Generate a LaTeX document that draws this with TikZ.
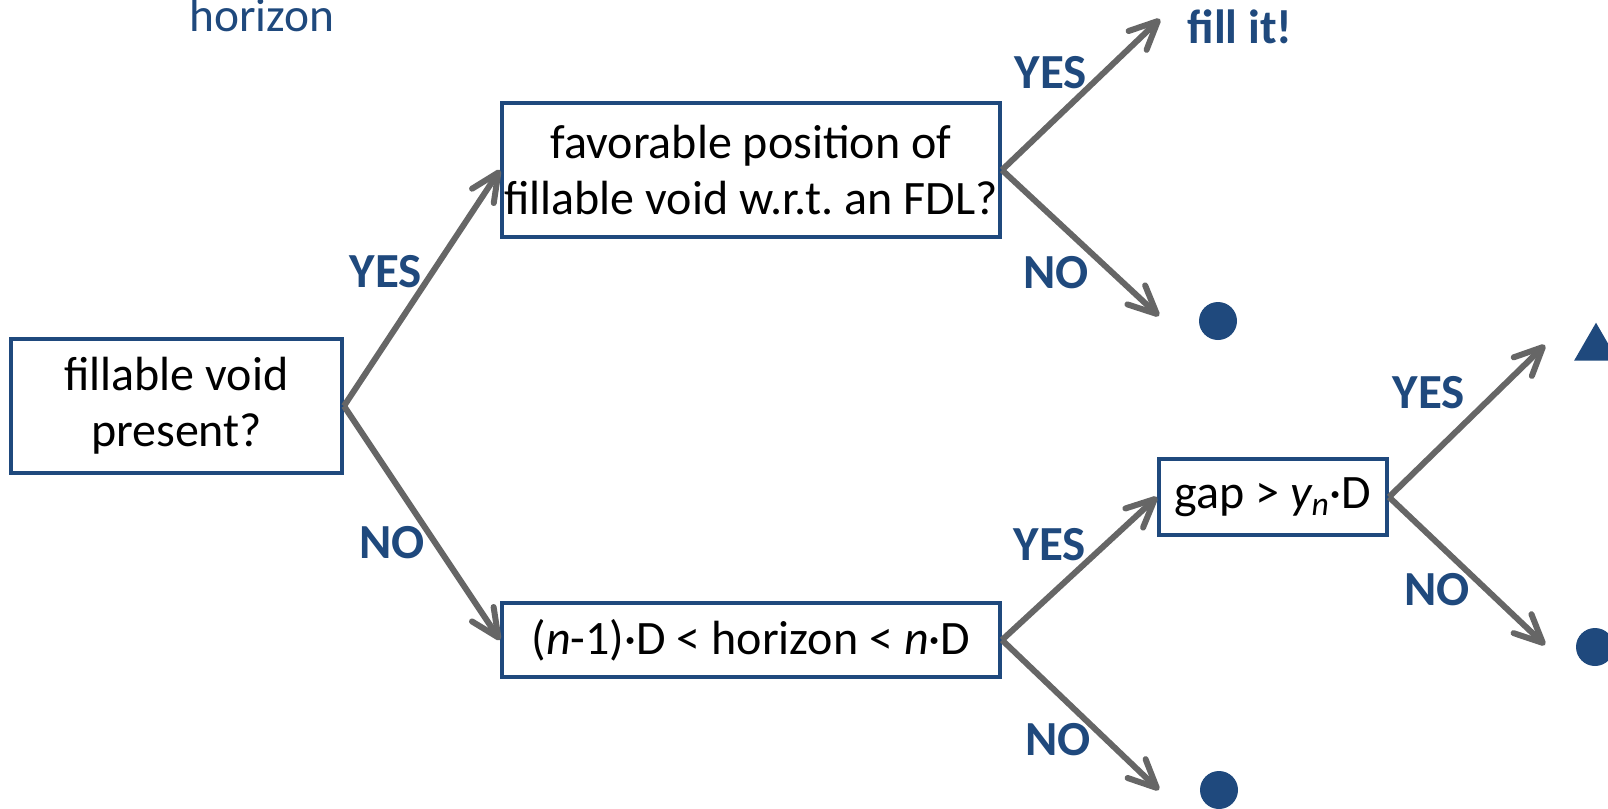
\documentclass[tikz,border=0pt]{standalone}
\usepackage{fontspec}
\setmainfont{Carlito}
\usetikzlibrary{arrows.meta,shapes.geometric}
\definecolor{darkblue}{HTML}{1F497D}
\definecolor{arrowgray}{HTML}{666666}

\begin{document}
\begin{tikzpicture}[x=0.5pt,y=-0.5pt,
    box/.style={draw=darkblue, line width=2pt, inner sep=0pt, align=center, font=\fontsize{24}{28}\selectfont},
    arr/.style={draw=arrowgray, line width=3pt, -{Straight Barb[length=14pt,width=13pt,round]}},
    answer/.style={text=darkblue, inner sep=0pt, font=\fontsize{24.5}{28}\selectfont\bfseries},
    dot/.style={circle, fill=darkblue, inner sep=0pt, minimum size=19pt},
    tri/.style={regular polygon, regular polygon sides=3, fill=darkblue, inner sep=0pt, minimum size=25.3pt}]
    \useasboundingbox (0,0) rectangle (1608,809);
    \clip (0,0) rectangle (1608,809);

    \node[text=darkblue, inner sep=0pt, anchor=base, font=\fontsize{23.7}{28}\selectfont] (horizon) at (262,31) {horizon};

    % questions
    \node[box, minimum width=165.5pt, minimum height=67pt] (void) at (176.5,406) {fillable void\\present?};
    \node[box, minimum width=249pt, minimum height=67pt] (fav) at (751,170) {favorable position of\\fillable void w.r.t.\ an FDL?};
    \node[box, minimum width=249pt, minimum height=37pt] (hz) at (751,640) {(\textit{n}-1)·D < horizon < \textit{n}·D};
    \node[box, minimum width=114pt, minimum height=38pt] (gap) at (1273,497) {gap > \textit{y\textsubscript{n}}·D};

    % outcomes
    \node[answer, anchor=base west, font=\fontsize{24}{28}\selectfont\bfseries] (fill) at (1187,43) {fill it!};
    \node[dot] (dotA) at (1218,321) {};
    \node[dot] (dotB) at (1219,790) {};
    \node[dot] (dotC) at (1595,647) {};
    \node[tri] (triA) at (1596,348) {};

    \coordinate (tipA) at (1160,19);
    \coordinate (tipB) at (1159,316);
    \coordinate (tipC) at (1159,790);
    \coordinate (tipD) at (1545,345);
    \coordinate (tipE) at (1545,645);

    \draw[arr] (void.east) -- (fav.west);
    \draw[arr] (void.east) -- (hz.west);
    \draw[arr] (fav.east) -- (tipA);
    \draw[arr] (fav.east) -- (tipB);
    \draw[arr] (hz.east) -- (gap.west);
    \draw[arr] (hz.east) -- (tipC);
    \draw[arr] (gap.east) -- (tipD);
    \draw[arr] (gap.east) -- (tipE);

    % answers
    \node[answer] (yesA) at (386,272) {YES};
    \node[answer] (noA) at (392,543) {NO};
    \node[answer] (yesB) at (1051,73) {YES};
    \node[answer] (noB) at (1056,273) {NO};
    \node[answer] (yesC) at (1050,545) {YES};
    \node[answer] (noC) at (1058,740) {NO};
    \node[answer] (yesD) at (1429,393) {YES};
    \node[answer] (noD) at (1437,590) {NO};
\end{tikzpicture}
\end{document}
